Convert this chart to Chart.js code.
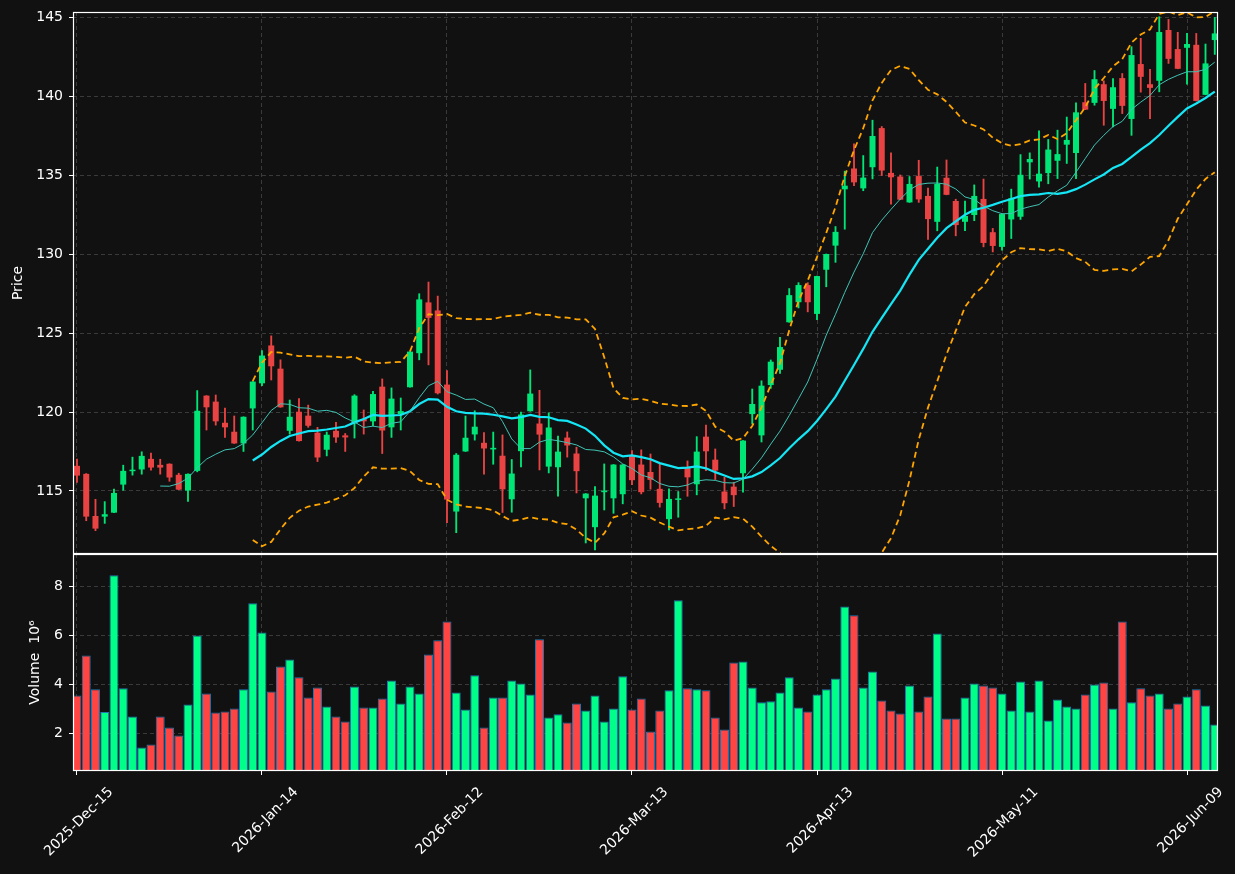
<!DOCTYPE html>
<html>
<head>
<meta charset="utf-8">
<script src="https://cdn.jsdelivr.net/npm/chart.js@4.4.1/dist/chart.umd.min.js"></script>
<style>
html, body { margin: 0; padding: 0; background: #111111; }
#wrap { position: relative; width: 1235px; height: 874px; background: #111111; }
#priceChart { position: absolute; left: 0; top: 0; }
#volChart { position: absolute; left: 0; top: 554px; }
</style>
</head>
<body>
<div id="wrap">
  <canvas id="priceChart" width="1235" height="554"></canvas>
  <canvas id="volChart" width="1235" height="320"></canvas>
</div>
<script>
// trading days, ticks every 20 sessions
const tickIdx = [0, 20, 40, 60, 80, 100, 120];
const tickLabels = ['2025-Dec-15', '2026-Jan-14', '2026-Feb-12', '2026-Mar-13', '2026-Apr-13', '2026-May-11', '2026-Jun-09'];
const priceTicks = [115, 120, 125, 130, 135, 140, 145];
const volTicks = [2, 4, 6, 8];

const open = [116.59,116.08,113.41,113.37,113.62,115.40,116.25,116.36,117.03,116.65,
  116.72,116.02,115.02,116.27,121.04,120.66,119.32,118.75,118.01,120.23,
  121.82,124.22,122.75,118.81,120.02,119.77,118.69,117.61,118.81,118.52,
  119.28,119.56,119.41,121.61,119.03,119.87,121.57,123.73,126.95,126.44,
  121.74,113.69,117.50,118.58,118.05,117.63,117.23,114.47,117.52,120.05,
  119.27,116.54,116.50,118.38,117.37,114.53,112.70,114.92,114.53,114.79,
  117.22,116.67,116.20,115.13,113.21,114.43,116.50,115.42,118.44,116.98,
  114.96,115.27,116.12,119.87,118.52,121.71,122.68,125.69,126.96,128.05,
  126.22,129.02,130.55,134.12,135.44,134.18,135.52,138.00,135.16,134.93,
  133.29,134.96,133.70,132.06,134.85,133.38,132.06,132.49,133.51,131.40,
  130.47,132.21,132.38,135.83,134.62,135.15,135.93,136.95,136.42,139.64,
  139.60,140.78,139.22,141.17,138.58,142.06,140.78,141.00,144.22,143.01,
  143.09,143.28,140.11,143.58];
const high = [117.01,116.10,114.47,114.32,115.11,116.63,117.14,117.48,117.39,117.01,
  116.72,116.12,116.08,121.36,121.04,121.08,120.25,119.75,119.70,121.93,
  123.90,124.83,123.31,120.76,120.85,120.44,119.03,118.73,119.34,118.64,
  121.10,120.13,121.31,122.10,121.53,120.89,123.83,127.50,128.24,127.35,
  122.63,117.37,119.75,120.08,118.69,118.73,118.55,116.99,119.99,122.67,
  121.38,119.95,118.47,118.74,117.77,114.83,115.27,116.71,116.67,116.67,
  117.56,117.60,117.34,116.71,115.13,114.96,116.90,118.44,119.18,117.66,
  115.86,115.55,118.19,121.46,121.98,123.30,124.73,127.83,128.20,128.20,
  128.62,130.02,131.76,135.27,137.00,136.26,138.50,138.10,136.43,135.03,
  134.93,135.96,134.19,135.53,135.98,133.49,133.38,134.40,134.77,131.64,
  132.55,134.13,136.32,136.43,137.83,137.28,137.87,138.70,139.60,140.83,
  141.65,141.00,141.14,141.46,143.16,143.69,141.72,145.06,144.89,144.07,
  144.00,144.00,143.33,145.02];
const low = [115.53,113.11,112.48,112.94,113.62,115.04,116.00,116.06,116.31,116.06,
  115.61,115.08,114.34,116.21,118.86,119.17,118.39,118.01,117.50,118.86,
  121.67,122.03,120.30,118.60,118.16,119.03,116.86,117.22,118.07,117.50,
  118.35,118.60,119.13,117.37,118.39,118.86,121.57,123.31,122.99,121.14,
  112.99,112.35,117.50,118.22,116.06,116.69,113.63,113.65,116.52,120.05,
  116.33,116.14,114.66,117.14,114.87,111.70,111.26,113.79,113.58,114.18,
  115.40,114.81,115.11,113.97,112.53,113.33,114.66,114.75,116.29,115.72,
  113.86,114.01,114.92,119.24,118.10,121.50,122.45,125.69,126.60,126.35,
  125.86,127.94,129.49,131.59,134.35,134.03,134.78,134.99,133.18,133.46,
  133.29,133.29,130.94,131.49,133.77,131.17,131.49,132.13,130.47,130.15,
  130.26,131.00,132.21,134.77,134.26,134.47,134.80,135.76,134.79,139.17,
  139.45,138.18,138.07,138.92,137.54,140.28,138.60,140.30,142.10,141.76,
  140.78,139.72,140.11,142.67];
const close = [115.97,113.37,112.61,113.52,114.87,116.27,116.29,117.22,116.48,116.48,
  115.85,115.08,116.08,120.08,120.30,119.41,119.03,118.01,119.70,121.93,
  123.58,122.90,120.30,119.70,118.16,119.13,117.12,118.56,118.39,118.39,
  121.04,119.41,121.14,118.83,120.85,120.06,123.83,127.14,125.97,121.19,
  114.45,117.29,118.37,119.07,117.69,117.73,115.10,116.10,119.84,121.17,
  118.57,119.02,117.49,117.88,116.25,114.83,114.70,115.02,116.67,116.67,
  115.68,114.92,115.70,114.24,114.49,114.49,115.86,117.49,117.51,116.29,
  114.22,114.73,118.19,120.51,121.67,123.19,124.12,127.41,128.05,126.96,
  128.62,130.02,131.42,134.35,134.56,134.86,137.50,135.31,134.88,133.46,
  134.46,133.48,132.23,134.47,133.77,131.85,132.43,133.70,130.72,130.53,
  132.55,133.55,135.04,136.04,135.11,136.64,136.35,137.25,139.00,139.17,
  141.10,139.72,140.59,139.41,142.63,141.25,140.55,144.09,142.39,141.76,
  143.33,139.72,142.10,144.00];
// volume in millions
const volume = [3.55,5.18,3.80,2.88,8.45,3.84,2.69,1.43,1.55,2.69,
  2.24,1.92,3.18,6.00,3.63,2.86,2.90,3.02,3.80,7.31,
  6.12,3.71,4.73,5.02,4.29,3.47,3.88,3.10,2.69,2.49,
  3.92,3.06,3.06,3.43,4.16,3.22,3.92,3.63,5.22,5.80,
  6.57,3.67,2.98,4.37,2.24,3.47,3.47,4.16,4.04,3.59,
  5.84,2.65,2.78,2.45,3.22,2.94,3.55,2.49,3.02,4.33,
  2.98,3.43,2.08,2.94,3.76,7.43,3.84,3.80,3.76,2.65,
  2.16,4.90,4.94,3.88,3.27,3.31,3.67,4.29,3.06,2.90,
  3.59,3.80,4.24,7.18,6.82,3.88,4.53,3.35,2.94,2.82,
  3.96,2.90,3.51,6.08,2.61,2.61,3.47,4.04,3.96,3.88,
  3.63,2.94,4.12,2.90,4.16,2.53,3.39,3.10,3.02,3.59,
  4.00,4.08,3.02,6.57,3.27,3.84,3.55,3.63,3.02,3.22,
  3.51,3.80,3.14,2.37];

const UP = '#00e676', DOWN = '#ea4343';
const VUP = '#00ff88', VDOWN = '#ff4444';
const FONT = "'DejaVu Sans', sans-serif";
const GRID = '#3a3a3a';

const isUp = close.map((c, i) => c >= open[i]);

function rollMean(arr, n) {
  return arr.map((v, i) => {
    if (i < n - 1) return null;
    let s = 0;
    for (let j = i - n + 1; j <= i; j++) s += arr[j];
    return s / n;
  });
}
function rollStd(arr, n) {
  const m = rollMean(arr, n);
  return arr.map((v, i) => {
    if (i < n - 1) return null;
    let s = 0;
    for (let j = i - n + 1; j <= i; j++) s += (arr[j] - m[i]) ** 2;
    return Math.sqrt(s / (n - 1));
  });
}
const ma10 = rollMean(close, 10);
const ma20 = rollMean(close, 20);
const sd20 = rollStd(close, 20);
const bbUp = ma20.map((m, i) => m === null ? null : m + 2 * sd20[i]);
const bbLo = ma20.map((m, i) => m === null ? null : m - 2 * sd20[i]);

const pts = arr => arr.map((y, i) => ({ x: i, y: y }));

const frame = {
  id: 'frame',
  beforeDraw(c) {
    const x = c.ctx;
    x.save();
    x.fillStyle = '#111111';
    x.fillRect(0, 0, c.width, c.height);
    x.restore();
  },
  afterDraw(c) {
    const a = c.chartArea, x = c.ctx;
    x.save();
    x.strokeStyle = '#ffffff';
    x.lineWidth = 1.2;
    x.strokeRect(Math.round(a.left) + 0.5, Math.round(a.top) + 0.5,
      Math.round(a.right - a.left) - 1, Math.round(a.bottom - a.top) - 1);
    x.restore();
  }
};

const noPadX = s => { s.paddingLeft = 0; s.paddingRight = 0; };
const noPadY = s => { s.paddingTop = 0; s.paddingBottom = 0; };

const xBase = {
  type: 'linear',
  min: -0.43,
  max: 123.35,
  offset: false,
  afterBuildTicks: s => { s.ticks = tickIdx.map(v => ({ value: v })); },
  border: { display: false, dash: [4, 3] },
};

new Chart(document.getElementById('priceChart'), {
  type: 'bar',
  data: {
    datasets: [
      { type: 'line', data: pts(ma10), borderColor: '#3fc4b4', borderWidth: 1, pointRadius: 0, order: 0 },
      { type: 'line', data: pts(ma20), borderColor: '#14e6f5', borderWidth: 2.2, pointRadius: 0, order: 0 },
      { type: 'line', data: pts(bbUp), borderColor: '#ffa500', borderWidth: 1.8, borderDash: [6, 4], pointRadius: 0, order: 0 },
      { type: 'line', data: pts(bbLo), borderColor: '#ffa500', borderWidth: 1.8, borderDash: [6, 4], pointRadius: 0, order: 0 },
      {
        data: low.map((l, i) => ({ x: i, y: [l, high[i]] })),
        backgroundColor: isUp.map(u => u ? UP : DOWN),
        barThickness: 1.2, grouped: false, order: 2
      },
      {
        data: open.map((o, i) => ({ x: i, y: [o, close[i]] })),
        backgroundColor: isUp.map(u => u ? UP : DOWN),
        barPercentage: 0.65, categoryPercentage: 1, minBarLength: 1.5, grouped: false, order: 1
      }
    ]
  },
  options: {
    responsive: false,
    animation: false,
    layout: { padding: { left: 0, right: 17, top: 12, bottom: 0 } },
    plugins: { legend: { display: false }, tooltip: { enabled: false } },
    scales: {
      x: Object.assign({}, xBase, {
        afterFit: s => { s.height = 0; noPadX(s); },
        ticks: { display: false },
        grid: { color: GRID, drawTicks: false, offset: false }
      }),
      y: {
        min: 111.0,
        max: 145.36,
        afterBuildTicks: s => { s.ticks = priceTicks.map(v => ({ value: v })); },
        afterFit: s => { s.width = 73; noPadY(s); },
        border: { display: false, dash: [4, 3] },
        grid: { color: GRID, tickColor: '#ffffff', tickLength: 4, tickBorderDash: [] },
        ticks: { color: '#ffffff', font: { family: FONT, size: 14 }, padding: 6 },
        title: { display: true, text: 'Price', color: '#ffffff', font: { family: FONT, size: 14 }, padding: { top: 10, bottom: 0 } }
      }
    }
  },
  plugins: [frame]
});

new Chart(document.getElementById('volChart'), {
  type: 'bar',
  data: {
    datasets: [{
      data: volume.map((v, i) => ({ x: i, y: v })),
      backgroundColor: isUp.map(u => u ? VUP : VDOWN),
      borderColor: '#1f77b4',
      borderWidth: 1,
      barPercentage: 0.97,
      categoryPercentage: 1
    }]
  },
  options: {
    responsive: false,
    animation: false,
    layout: { padding: { left: 0, right: 17, top: 0, bottom: 0 } },
    plugins: { legend: { display: false }, tooltip: { enabled: false } },
    scales: {
      x: Object.assign({}, xBase, {
        afterFit: s => { s.height = 103; noPadX(s); },
        grid: { color: GRID, tickColor: '#ffffff', tickLength: 4, tickBorderDash: [], offset: false },
        ticks: {
          color: '#ffffff', font: { family: FONT, size: 14 }, autoSkip: false,
          maxRotation: 45, minRotation: 45, padding: 9, labelOffset: 34,
          callback: v => tickLabels[tickIdx.indexOf(v)]
        }
      }),
      y: {
        min: 0.47,
        max: 9.32,
        afterBuildTicks: s => { s.ticks = volTicks.map(v => ({ value: v })); },
        afterFit: s => { s.width = 73; noPadY(s); },
        border: { display: false, dash: [4, 3] },
        grid: { color: GRID, tickColor: '#ffffff', tickLength: 4, tickBorderDash: [] },
        ticks: { color: '#ffffff', font: { family: FONT, size: 14 }, padding: 6 },
        title: { display: true, text: 'Volume  10\u2076', color: '#ffffff', font: { family: FONT, size: 14 }, padding: { top: 27, bottom: 0 } }
      }
    }
  },
  plugins: [frame]
});
</script>
</body>
</html>
